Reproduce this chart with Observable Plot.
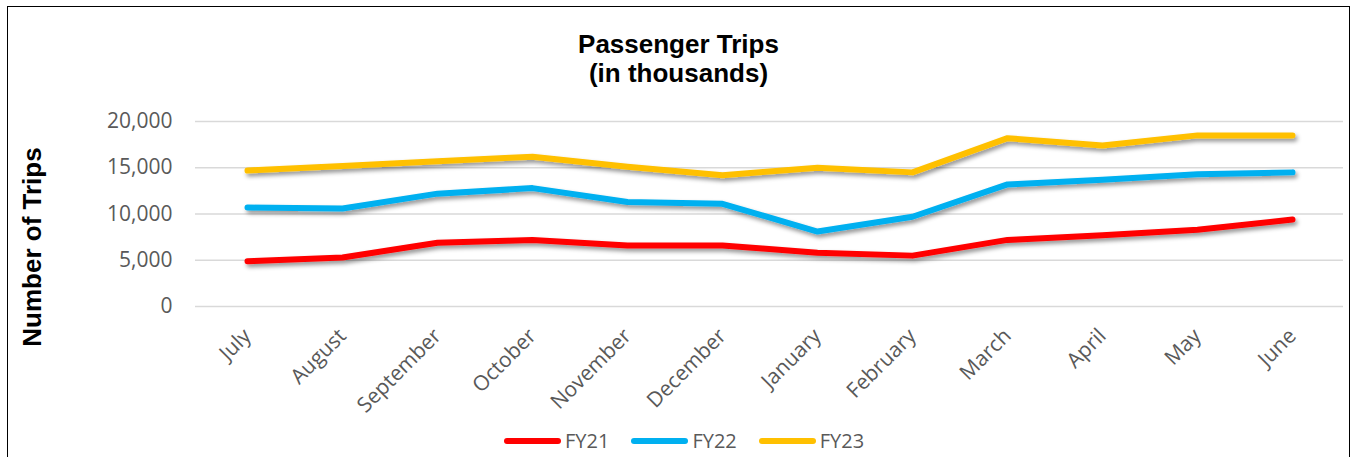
<!DOCTYPE html>
<html>
<head>
<meta charset="utf-8">
<script src="https://cdn.jsdelivr.net/npm/d3@7"></script>
<script src="https://cdn.jsdelivr.net/npm/@observablehq/plot@0.6"></script>
<style>
html, body { margin: 0; padding: 0; background: #fff; overflow: hidden; width: 1353px; height: 457px; }
#frame { position: absolute; left: 7px; top: 6px; width: 1343px; height: 480px; border: 1.5px solid #000; box-sizing: border-box; }
#title { position: absolute; left: 7px; width: 1343px; top: 30px; text-align: center; font: bold 26px "Liberation Sans", Arial, sans-serif; line-height: 29px; color: #000; }
#ytitle { position: absolute; left: 32px; top: 247px; transform: translate(-50%, -50%) rotate(-90deg); font: bold 26px "Liberation Sans", Arial, sans-serif; white-space: nowrap; color: #000; }
#chart { position: absolute; left: 0; top: 0; }
#legend { position: absolute; left: 504px; top: 427px; display: flex; align-items: center; font: 20px "Open Sans", sans-serif; color: #595959; }
.item { display: flex; align-items: center; margin-right: 22px; }
.sw { width: 57px; height: 6px; border-radius: 3px; margin-right: 4px; }
</style>
</head>
<body>
<div id="frame"></div>
<div id="chart"></div>
<div id="title">Passenger Trips<br>(in thousands)</div>
<div id="ytitle">Number of Trips</div>
<div id="legend"></div>
<script>
const months = ["July", "August", "September", "October", "November", "December", "January", "February", "March", "April", "May", "June"];
const seriesNames = ["FY21", "FY22", "FY23"];
const fy21 = [4900, 5300, 6900, 7200, 6600, 6600, 5800, 5500, 7200, 7700, 8300, 9400];
const fy22 = [10700, 10600, 12200, 12800, 11300, 11100, 8100, 9700, 13200, 13700, 14300, 14500];
const fy23 = [14700, 15200, 15700, 16200, 15100, 14200, 15000, 14500, 18200, 17400, 18500, 18500];
const yTicks = [0, 5000, 10000, 15000, 20000];
const colors = ["#FF0000", "#00B0F0", "#FFC000"];

const seriesValues = [fy21, fy22, fy23];
const data = [];
seriesNames.forEach((s, si) => months.forEach((m, i) => data.push({series: s, month: m, value: seriesValues[si][i]})));

const chart = Plot.plot({
  width: 1353,
  height: 420,
  marginLeft: 195,
  marginRight: 10,
  marginTop: 121,
  marginBottom: 114,
  style: {fontFamily: "'Open Sans', sans-serif", fontSize: "21px", color: "#595959", background: "transparent", overflow: "visible"},
  x: {type: "point", domain: months, padding: 0.5, label: null},
  y: {domain: [0, 20000], label: null},
  color: {domain: seriesNames, range: colors},
  marks: [
    Plot.ruleY(yTicks, {stroke: "#d9d9d9", strokeWidth: 1.5}),
    Plot.axisY(yTicks, {tickSize: 0, tickPadding: 23, tickFormat: d3.format(","), fill: "#595959", fontSize: 21, label: null}),
    Plot.axisX(months, {tickSize: 0, tickRotate: -45, tickPadding: 26, fill: "#595959", fontSize: 21, label: null}),
    Plot.line(data, {x: "month", y: "value", z: "series", stroke: "series", strokeWidth: 6, strokeLinecap: "round", strokeLinejoin: "round"})
  ]
});

const svg = d3.select(chart);
const defs = svg.insert("defs", ":first-child");
const f = defs.append("filter").attr("id", "shadow").attr("x", "-5%").attr("y", "-20%").attr("width", "110%").attr("height", "150%");
f.append("feDropShadow").attr("dx", 2).attr("dy", 3).attr("stdDeviation", 2).attr("flood-color", "#000").attr("flood-opacity", 0.42);
svg.selectAll('g[aria-label="line"]').attr("filter", "url(#shadow)");
document.getElementById("chart").appendChild(chart);

const legend = d3.select("#legend");
seriesNames.forEach((s, i) => {
  const it = legend.append("div").attr("class", "item");
  it.append("div").attr("class", "sw").style("background", colors[i]);
  it.append("span").text(s);
});
</script>
</body>
</html>
